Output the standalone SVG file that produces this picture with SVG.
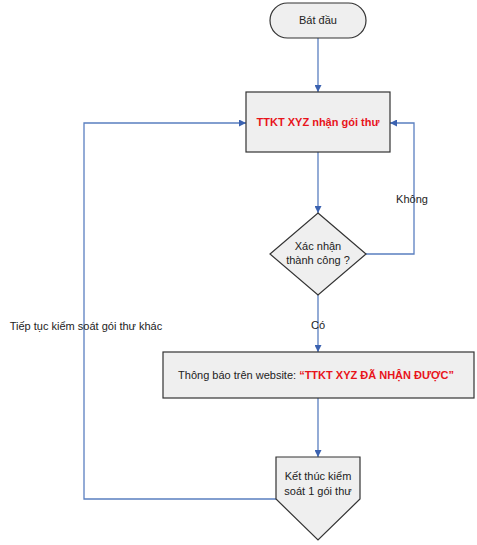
<svg xmlns="http://www.w3.org/2000/svg" width="477" height="545" viewBox="0 0 477 545">
<style>
.node{fill:#efefef;stroke:#333;stroke-width:1.2}
.t{font-family:"Liberation Sans",Arial,sans-serif;font-size:11px;fill:#222;text-anchor:middle}
.r{fill:#e8141b;font-weight:bold}
.c{fill:none;stroke:#5a7fc0;stroke-width:1.3}
</style>
<defs>
<marker id="a" viewBox="0 0 10 10" refX="10" refY="5" markerWidth="7" markerHeight="7" orient="auto" markerUnits="userSpaceOnUse">
<path d="M0,0 L10,5 L0,10 z" fill="#3b62b0"/>
</marker>
</defs>
<rect width="477" height="545" fill="#fff"/>
<g id="connectors">
<line class="c" x1="318" y1="38" x2="318" y2="92" marker-end="url(#a)"/>
<line class="c" x1="318" y1="152" x2="318" y2="213" marker-end="url(#a)"/>
<polyline class="c" points="366,254 414,254 414,123 390,123" marker-end="url(#a)"/>
<line class="c" x1="318" y1="295" x2="318" y2="352" marker-end="url(#a)"/>
<line class="c" x1="318" y1="398" x2="318" y2="457" marker-end="url(#a)"/>
<polyline class="c" points="276,499 84,499 84,123 246,123" marker-end="url(#a)"/>
<text class="t" x="412" y="203">Không</text>
<text class="t" x="318" y="329">Có</text>
<text class="t" x="86" y="330">Tiếp tục kiểm soát gói thư khác</text>
</g>
<g id="start">
<rect class="node" x="270" y="3" width="96" height="35" rx="17.5"/>
<text class="t" x="318" y="24">Bát đầu</text>
</g>
<g id="receive">
<rect class="node" x="246" y="92" width="144" height="60"/>
<text class="t r" x="318" y="126">TTKT XYZ nhận gói thư</text>
</g>
<g id="confirm">
<polygon class="node" points="318,213 366,254 318,295 270,254"/>
<text class="t" x="318" y="250">Xác nhận</text>
<text class="t" x="318" y="264">thành công ?</text>
</g>
<g id="notify">
<rect class="node" x="163" y="352" width="311" height="46"/>
<text class="t" x="316" y="379">Thông báo trên website: <tspan class="r">“TTKT XYZ ĐÃ NHẬN ĐƯỢC”</tspan></text>
</g>
<g id="end">
<polygon class="node" points="276,457 360,457 360,499 318,540 276,499"/>
<text class="t" x="318" y="480">Kết thúc kiểm</text>
<text class="t" x="318" y="495">soát 1 gói thư</text>
</g>
</svg>
